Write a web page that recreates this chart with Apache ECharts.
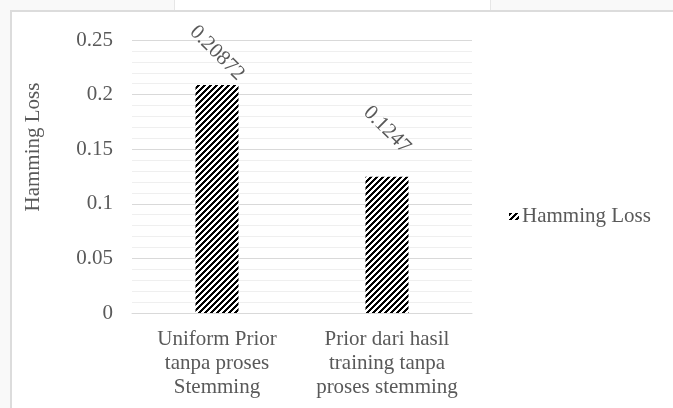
<!DOCTYPE html>
<html>
<head>
<meta charset="utf-8">
<script src="https://cdn.jsdelivr.net/npm/echarts@6/dist/echarts.min.js"></script>
<style>
  html, body { margin: 0; padding: 0; background: #f9f9f9; }
  #stage { position: relative; width: 673px; height: 408px; overflow: hidden; }
  #frame { position: absolute; left: 10px; top: 10px; width: 663px; height: 398px;
           background: #fff; border-left: 2px solid #dcdcdc; border-top: 2px solid #dcdcdc;
           box-sizing: border-box; }
  #tab { position: absolute; left: 174px; top: 0; width: 317px; height: 10px; background: #fff;
         border-left: 1px solid #e6e6e6; border-right: 1px solid #e6e6e6; box-sizing: border-box; }
  #chart { position: absolute; left: 0; top: 0; width: 673px; height: 408px; }
</style>
</head>
<body>
<div id="stage">
  <div id="tab"></div>
  <div id="frame"></div>
  <div id="chart"></div>
</div>
<script>
// Categories and values
var categories = [
  'Uniform Prior\ntanpa proses\nStemming',
  'Prior dari hasil\ntraining tanpa\nproses stemming'
];
var hammingLoss = [0.20872, 0.1247];
var seriesName = 'Hamming Loss';
var axisTitle = 'Hamming Loss';

var FONT = '"Liberation Serif", "Times New Roman", serif';
var TEXT = '#595959';

// Diagonal hatch tile: black "/" stripes on white
function hatchTile() {
  var c = document.createElement('canvas');
  var n = 6;
  c.width = n; c.height = n;
  var ctx = c.getContext('2d');
  ctx.fillStyle = '#ffffff';
  ctx.fillRect(0, 0, n, n);
  ctx.fillStyle = '#000000';
  for (var x = 0; x < n; x++) {
    for (var y = 0; y < n; y++) {
      if ((x + y) % n < 3) ctx.fillRect(x, y, 1, 1);
    }
  }
  return c;
}
var hatch = { image: hatchTile(), repeat: 'repeat' };

// Per-bar label distance above the bar top
var labelGap = [32, 47];

var chart = echarts.init(document.getElementById('chart'), null, { renderer: 'canvas' });
chart.setOption({
  animation: false,
  backgroundColor: 'transparent',
  textStyle: { fontFamily: FONT },
  grid: { left: 132, right: 201, top: 40, bottom: 95, containLabel: false },
  legend: {
    data: [seriesName],
    left: 509,
    top: 206,
    padding: 0,
    orient: 'vertical',
    itemWidth: 10,
    itemHeight: 7,
    itemGap: 0,
    icon: 'rect',
    textStyle: { fontFamily: FONT, fontSize: 21, color: TEXT, padding: [0, 0, 0, -2] }
  },
  xAxis: {
    type: 'category',
    data: categories,
    axisLine: { show: true, lineStyle: { color: '#d9d9d9', width: 1 } },
    axisTick: { show: false },
    axisLabel: {
      interval: 0,
      margin: 14,
      fontFamily: FONT,
      fontSize: 21,
      lineHeight: 24,
      color: TEXT,
      align: 'center'
    }
  },
  yAxis: {
    type: 'value',
    min: 0,
    max: 0.25,
    interval: 0.05,
    axisLine: { show: false },
    axisTick: { show: false },
    axisLabel: { margin: 19, fontFamily: FONT, fontSize: 21, color: TEXT },
    splitLine: { show: true, lineStyle: { color: '#d9d9d9', width: 1 } },
    minorTick: { show: false, splitNumber: 5 },
    minorSplitLine: { show: true, lineStyle: { color: '#efefef', width: 1 } }
  },
  graphic: [{
    type: 'text',
    x: 33,
    y: 147,
    rotation: Math.PI / 2,
    style: {
      text: axisTitle,
      fontFamily: FONT,
      fontSize: 21,
      fill: TEXT,
      align: 'center',
      verticalAlign: 'middle'
    }
  }],
  series: [{
    name: seriesName,
    type: 'bar',
    barWidth: 43,
    itemStyle: { color: hatch },
    data: hammingLoss.map(function (v, i) {
      return {
        value: v,
        label: { distance: labelGap[i] }
      };
    }),
    label: {
      show: true,
      position: 'top',
      rotate: -45,
      align: 'center',
      verticalAlign: 'middle',
      fontFamily: FONT,
      fontSize: 21,
      color: TEXT,
      formatter: function (p) { return String(p.value); }
    }
  }]
});
</script>
</body>
</html>
